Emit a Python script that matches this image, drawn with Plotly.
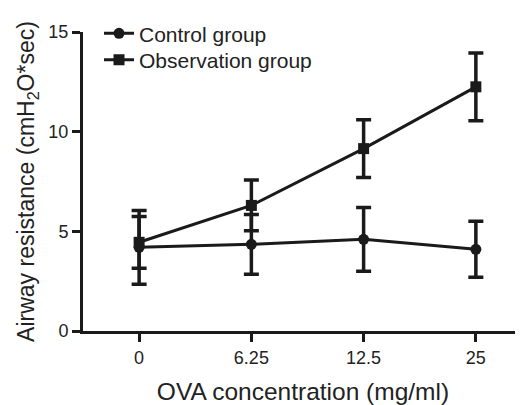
import plotly.graph_objects as go

categories = ["0", "6.25", "12.5", "25"]
control_mean = [4.2, 4.35, 4.6, 4.1]
control_err = [1.85, 1.5, 1.6, 1.4]
obs_mean = [4.45, 6.3, 9.15, 12.25]
obs_err = [1.3, 1.27, 1.45, 1.7]

col = "#1a1a1a"
fig = go.Figure()
fig.add_trace(go.Scatter(
    x=categories, y=control_mean, name="Control group", mode="lines+markers",
    line=dict(color=col, width=3), marker=dict(symbol="circle", size=11, color=col),
    error_y=dict(type="data", array=control_err, color=col, thickness=3.5, width=7.5),
    legend="legend",
))
fig.add_trace(go.Scatter(
    x=categories, y=obs_mean, name="Observation group", mode="lines+markers",
    line=dict(color=col, width=3), marker=dict(symbol="square", size=11, color=col),
    error_y=dict(type="data", array=obs_err, color=col, thickness=3.5, width=7.5),
    legend="legend2",
))

leg_common = dict(xanchor="left", yanchor="top", font=dict(size=21),
                  bgcolor="rgba(0,0,0,0)", itemwidth=30)
fig.update_layout(
    width=515, height=397,
    margin=dict(l=75, r=0, t=24, b=74, autoexpand=False),
    paper_bgcolor="white", plot_bgcolor="white",
    font=dict(family="Liberation Sans, Arial, sans-serif", color="#222222", size=18),
    showlegend=True,
    legend=dict(x=0.0364, y=1.063, **leg_common),
    legend2=dict(x=0.0364, y=0.975, **leg_common),
    xaxis=dict(
        type="category", range=[-0.5, 3.42], showline=True, linecolor=col, linewidth=3,
        ticks="outside", ticklen=8, tickwidth=2.5, tickcolor=col, showgrid=False, zeroline=False,
        tickfont=dict(size=18), automargin=False,
        title=dict(text="OVA concentration (mg/ml)", font=dict(size=24.5), standoff=19),
    ),
    yaxis=dict(
        range=[0, 15], tickvals=[0, 5, 10, 15], showline=True, linecolor=col, linewidth=3,
        ticks="outside", ticklen=8, tickwidth=2.5, tickcolor=col, showgrid=False, zeroline=False,
        tickfont=dict(size=18), automargin=False,
        title=dict(text="Airway resistance (cmH<sub>2</sub>O*sec)", font=dict(size=23), standoff=8),
    ),
)
fig.write_html("out.html")
